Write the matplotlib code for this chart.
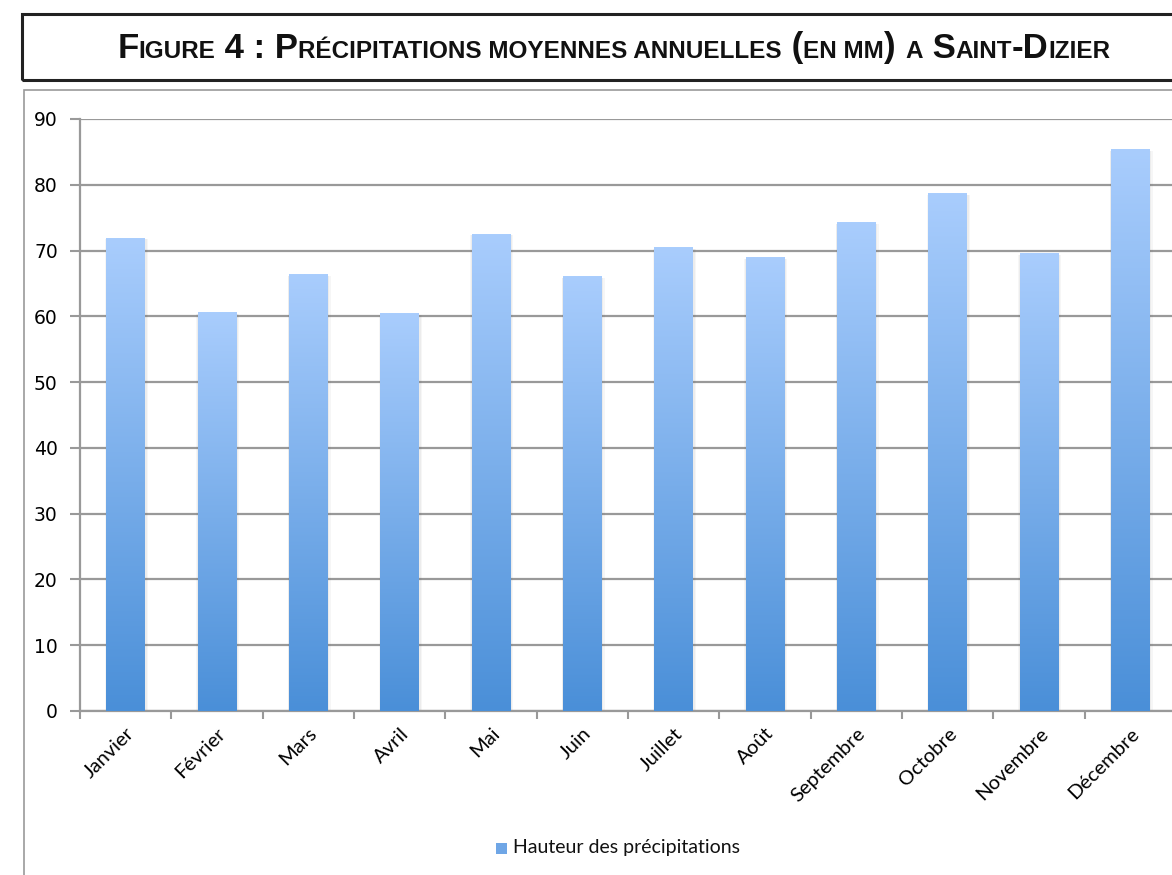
import numpy as np
import matplotlib.pyplot as plt
from matplotlib.patches import Rectangle
from matplotlib.offsetbox import TextArea, HPacker, AnnotationBbox
from matplotlib.colors import LinearSegmentedColormap

mois = ['Janvier', 'Février', 'Mars', 'Avril', 'Mai', 'Juin', 'Juillet',
        'Août', 'Septembre', 'Octobre', 'Novembre', 'Décembre']
hauteur = [71.9, 60.6, 66.3, 60.4, 72.5, 66.0, 70.5, 68.9, 74.3, 78.7, 69.6, 85.3]
serie = 'Hauteur des précipitations'
y_ticks = [0, 10, 20, 30, 40, 50, 60, 70, 80, 90]

W, H = 1172, 875
fig = plt.figure(figsize=(W / 100, H / 100), dpi=100)

# boxes around title and chart
fig.patches.append(Rectangle((22 / W, 1 - 80 / H), 1.2, 66 / H, transform=fig.transFigure,
                             fill=False, edgecolor='#222222', lw=2.2, clip_on=False))
fig.patches.append(Rectangle((24 / W, -0.2), 1.2, 0.2 + (1 - 90 / H), transform=fig.transFigure,
                             fill=False, edgecolor='#999999', lw=1.2, clip_on=False))

# title in small caps
big, small = 25, 17.5
pieces = [('F', big), ('IGURE', small), (' 4 : P', big), ('RÉCIPITATIONS MOYENNES ANNUELLES', small),
          (' (', big), ('EN MM', small), (') ', big), ('A', small), (' S', big), ('AINT', small),
          ('-D', big), ('IZIER', small)]
fam = ['Liberation Sans', 'DejaVu Sans']
boxes = [TextArea(t, textprops=dict(fontsize=s, fontweight='bold', family=fam, color='#111111'))
         for t, s in pieces]
title = HPacker(children=boxes, align='baseline', pad=0, sep=0)
fig.add_artist(AnnotationBbox(title, (614 / W, 1 - 48 / H), xycoords='figure fraction',
                              box_alignment=(0.5, 0.5), frameon=False))

ax = fig.add_axes([80 / W, 1 - 711 / H, 1096 / W, 592 / H])

cmap = LinearSegmentedColormap.from_list('bleu', ['#4a8fd8', '#a9cdfd'])
grad = np.linspace(0, 1, 256).reshape(-1, 1)
bw = 0.42
x = np.arange(len(mois))
for xi, h in zip(x, hauteur):
    # soft shadow
    for k, a in [(0.035, 0.05), (0.02, 0.06)]:
        ax.add_patch(Rectangle((xi - bw / 2 - k / 2, 0), bw + k * 1.5, h - 0.2, facecolor='#555555',
                               alpha=a, edgecolor='none', zorder=2))
    ax.imshow(grad, extent=[xi - bw / 2, xi + bw / 2, 0, h], origin='lower',
              cmap=cmap, aspect='auto', zorder=3)
ax.set_xlim(-0.5, 11.5)
ax.set_ylim(0, 90)

ax.set_yticks(y_ticks)
ax.yaxis.grid(True, color='#999999', lw=1.6, zorder=1)
ax.set_axisbelow(True)
ax.tick_params(axis='y', length=7, width=1.5, color='#999999', pad=9, labelsize=13.5)
for lab in ax.get_yticklabels():
    lab.set_family('DejaVu Sans')

ax.set_xticks(x)
ax.set_xticklabels(mois, rotation=45, ha='right', rotation_mode='anchor',
                   family=['Lato', 'DejaVu Sans'], fontsize=14.5)
ax.tick_params(axis='x', which='major', length=0, pad=10)
ax.set_xticks(np.arange(-0.5, 12, 1), minor=True)
ax.tick_params(axis='x', which='minor', length=6, width=1.5, color='#999999')

for s in ['top', 'right']:
    ax.spines[s].set_visible(False)
for s in ['left', 'bottom']:
    ax.spines[s].set_color('#999999')
    ax.spines[s].set_linewidth(1.6)

# legend
lx, ly = 496 / W, 1 - 848 / H
fig.patches.append(Rectangle((lx, ly - 5.5 / H), 11 / W, 11 / H, transform=fig.transFigure,
                             facecolor='#6fa6e6', edgecolor='none'))
fig.text(lx + 17 / W, ly, serie, va='center', ha='left', fontsize=14,
         family=['Lato', 'DejaVu Sans'], color='#111111')

fig.savefig('out.png', dpi=100)
